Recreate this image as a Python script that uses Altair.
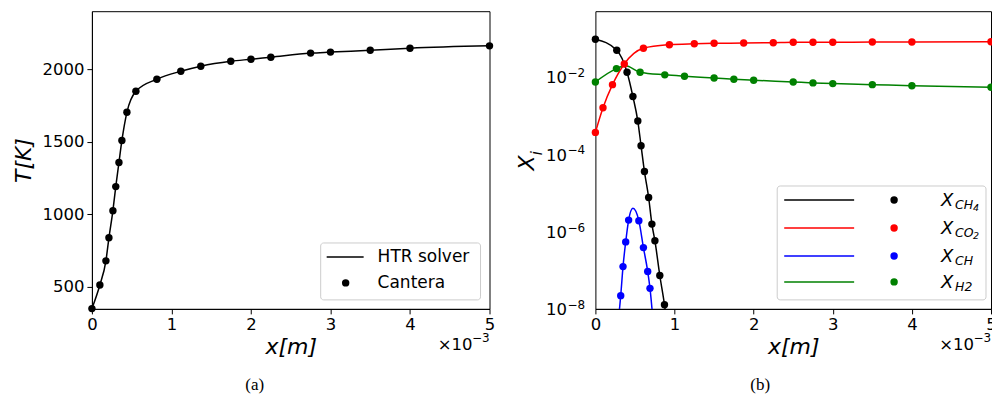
import altair as alt
import pandas as pd

FONT = "DejaVu Sans"

# ---------------- data (x in units of 1e-3 m) ----------------
# (a) temperature
t_x = [0.0, 0.10, 0.176, 0.214, 0.264, 0.30, 0.34, 0.377, 0.44, 0.553, 0.817,
       1.118, 1.369, 1.746, 2.0, 2.25, 2.75, 3.0, 3.5, 4.0, 5.0]
t_T = [350, 513, 679, 838, 1025, 1191, 1357, 1509, 1703, 1848, 1931,
       1986, 2021, 2055, 2069, 2083, 2111, 2118, 2131, 2145, 2161]

# (b) species mole fractions, Cantera points
ch4_x = [0.0, 0.27, 0.40, 0.474, 0.536, 0.577, 0.62, 0.673, 0.714, 0.752, 0.814, 0.873]
ch4_y = [0.094, 0.049, 0.0132, 3.1e-3, 7.2e-4, 1.66e-4, 3.56e-5, 7.6e-6, 1.56e-6, 5.8e-7, 7.3e-8, 1.28e-8]

co2_x = [0.0, 0.096, 0.216, 0.365, 0.607, 0.935, 1.25, 1.5, 1.874, 2.248, 2.5, 2.75, 3.0, 3.5, 4.0, 5.0]
co2_y = [3.67e-4, 1.59e-3, 6.3e-3, 0.0216, 0.055, 0.068, 0.072, 0.074, 0.075, 0.0766, 0.0785,
         0.0785, 0.0785, 0.0798, 0.0798, 0.081]

ch_x = [0.32, 0.349, 0.383, 0.42, 0.549, 0.607, 0.661, 0.69]
ch_y = [2.2e-8, 1.24e-7, 5.4e-7, 1.98e-6, 1.91e-6, 3.85e-7, 9.3e-8, 3.4e-8]

h2_x = [0.0, 0.266, 0.565, 0.877, 1.126, 1.5, 1.75, 2.0, 2.5, 2.75, 3.0, 3.5, 4.0, 5.0]
h2_y = [7.4e-3, 0.0164, 0.0132, 0.0113, 0.0104, 9.4e-3, 8.7e-3, 8.2e-3, 7.4e-3, 7.0e-3,
        6.7e-3, 6.3e-3, 5.9e-3, 5.4e-3]

# HTR solver curves
ch4_lx = [0.0, 0.27, 0.40, 0.474, 0.536, 0.577, 0.62, 0.673, 0.714, 0.752, 0.814, 0.873, 0.9]
ch4_ly = [0.094, 0.049, 0.0132, 3.1e-3, 7.2e-4, 1.66e-4, 3.56e-5, 7.6e-6, 1.56e-6, 5.8e-7, 7.3e-8, 1.28e-8, 5e-9]
co2_lx = co2_x
co2_ly = co2_y
ch_lx = [0.29, 0.32, 0.349, 0.383, 0.42, 0.474, 0.549, 0.607, 0.661, 0.69, 0.725]
ch_ly = [5e-9, 2.2e-8, 1.24e-7, 5.4e-7, 1.98e-6, 4.0e-6, 1.91e-6, 3.85e-7, 9.3e-8, 3.4e-8, 6e-9]
h2_lx = [0.0, 0.266, 0.38, 0.565, 0.877, 1.126, 1.5, 1.75, 2.0, 2.5, 2.75, 3.0, 3.5, 4.0, 5.0]
h2_ly = [7.4e-3, 0.0164, 0.0195, 0.0132, 0.0113, 0.0104, 9.4e-3, 8.7e-3, 8.2e-3, 7.4e-3, 7.0e-3,
         6.7e-3, 6.3e-3, 5.9e-3, 5.4e-3]

species = ["CH4", "CO2", "CH", "H2"]
colors = ["#000000", "#ff0000", "#0000ff", "#008000"]
leg_sub = ["CH", "CO", "CH", "H2"]
leg_subsub = ["4", "2", "", ""]

x_ticks = [0, 1, 2, 3, 4, 5]
T_ticks = [500, 1000, 1500, 2000]
X_ticks = [1e-8, 1e-6, 1e-4, 1e-2]
X_tick_exp = ["−8", "−6", "−4", "−2"]

W1, H1 = 398, 298
W2, H2 = 396, 298
PT = 55  # point size

one = pd.DataFrame({"d": [0]})


def txt(s, x, y, size, align="left", baseline="middle", style="normal", font=FONT, angle=0):
    return alt.Chart(one).mark_text(
        text=s, align=align, baseline=baseline, fontSize=size, font=font,
        fontStyle=style, color="black", angle=angle
    ).encode(x=alt.value(x), y=alt.value(y))


def box(x1, x2, y1, y2):
    return alt.Chart(one).mark_rect(
        fill="white", fillOpacity=0.8, stroke="#cccccc", strokeWidth=1, cornerRadius=3
    ).encode(x=alt.value(x1), x2=alt.value(x2), y=alt.value(y1), y2=alt.value(y2))


def seg(x1, x2, y, color):
    return alt.Chart(one).mark_rule(color=color, strokeWidth=1.5).encode(
        x=alt.value(x1), x2=alt.value(x2), y=alt.value(y))


def dot(x, y, color):
    return alt.Chart(one).mark_point(filled=True, color=color, size=PT, opacity=1).encode(
        x=alt.value(x), y=alt.value(y))


def offset_text(W):
    # the "x10^-3" multiplier under the x axis
    return [txt("×10", W - 17, 339, 16.5, align="right", baseline="alphabetic"),
            txt("−3", W - 17.5, 331, 12, align="left", baseline="alphabetic")]


xscale = alt.Scale(domain=[0, 5], nice=False, zero=False)
xaxis = alt.Axis(values=x_ticks, format="d", title="x[m]", titleFontStyle="italic",
                 titlePadding=3)

# ---------------- panel (a) ----------------
dfT = pd.DataFrame({"x": t_x, "T": t_T})
ya = alt.Y("T:Q", scale=alt.Scale(domain=[348, 2400], nice=False, zero=False),
           axis=alt.Axis(values=T_ticks, format="d", title="T[K]", titleFontStyle="italic",
                         titlePadding=6))
xa = alt.X("x:Q", scale=xscale, axis=xaxis)

lineA = alt.Chart(dfT).mark_line(color="black", strokeWidth=1.5, interpolate="monotone").encode(x=xa, y=ya)
ptsA = alt.Chart(dfT).mark_point(filled=True, color="black", size=PT, opacity=1).encode(x=xa, y=ya)

legA = [
    box(229, 389, 232, 289),
    seg(235, 272, 246, "black"),
    txt("HTR solver", 286, 246, 17),
    dot(254, 272, "black"),
    txt("Cantera", 286, 272, 17),
]
panelA = alt.layer(
    lineA, ptsA, *legA, *offset_text(W1),
    txt("(a)", 163, 374, 17, align="center", font="Liberation Serif"),
).properties(width=W1, height=H1)

# ---------------- panel (b) ----------------
yscale = alt.Scale(type="log", domain=[1e-8, 0.5], nice=False)
yaxis = alt.Axis(values=X_ticks, labels=False, title=None)

pts_data = [(ch4_x, ch4_y), (co2_x, co2_y), (ch_x, ch_y), (h2_x, h2_y)]
line_data = [(ch4_lx, ch4_ly), (co2_lx, co2_ly), (ch_lx, ch_ly), (h2_lx, h2_ly)]

layersB = []
for (lx, ly), c in zip(line_data, colors):
    d = pd.DataFrame({"x": lx, "X": ly})
    layersB.append(alt.Chart(d).mark_line(color=c, strokeWidth=1.5, interpolate="monotone", clip=True)
                   .encode(x=alt.X("x:Q", scale=xscale, axis=xaxis),
                           y=alt.Y("X:Q", scale=yscale, axis=yaxis)))
for (px, py), c in zip(pts_data, colors):
    d = pd.DataFrame({"x": px, "X": py})
    layersB.append(alt.Chart(d).mark_point(filled=True, color=c, size=PT, opacity=1)
                   .encode(x=alt.X("x:Q", scale=xscale, axis=xaxis),
                           y=alt.Y("X:Q", scale=yscale, axis=yaxis)))

# y tick labels 10^n drawn through the log scale
dticks = pd.DataFrame({"v": X_ticks, "e": X_tick_exp})
lab10 = alt.Chart(dticks).mark_text(text="10", align="right", baseline="alphabetic", dy=6.5,
                                    fontSize=16.5, font=FONT, color="black").encode(
    x=alt.value(-28.5), y=alt.Y("v:Q", scale=yscale, axis=None))
labexp = alt.Chart(dticks).mark_text(align="left", baseline="alphabetic", dy=0,
                                     fontSize=12, font=FONT, color="black").encode(
    x=alt.value(-28), y=alt.Y("v:Q", scale=yscale, axis=None), text="e:N")

titleB = [txt("X", -68, 152, 22, align="center", style="italic", angle=270),
          txt("i", -58, 142, 15, align="center", style="italic", angle=270)]

# legend of panel (b)
lx0 = 182
legB = [box(lx0, 391, 175, 289)]
entry_y = [189, 217, 245, 271]
for ey, c, s1, s2 in zip(entry_y, colors, leg_sub, leg_subsub):
    legB.append(seg(lx0 + 7, lx0 + 77, ey, c))
    legB.append(dot(lx0 + 117, ey, c))
    legB.append(txt("X", lx0 + 164, ey + 6, 18, baseline="alphabetic", style="italic"))
    legB.append(txt(s1, lx0 + 178, ey + 9.5, 12.5, baseline="alphabetic", style="italic"))
    if s2:
        legB.append(txt(s2, lx0 + 196, ey + 11, 9.5, baseline="alphabetic", style="italic"))

panelB = alt.layer(
    *layersB, lab10, labexp, *titleB, *legB, *offset_text(W2),
    txt("(b)", 165, 374, 17, align="center", font="Liberation Serif"),
).properties(width=W2, height=H2)

chart = alt.hconcat(panelA, panelB, spacing=20).properties(
    padding={"left": 4, "top": 2, "right": -5, "bottom": 0}
).configure_view(stroke="black", strokeWidth=1).configure_axis(
    grid=False, labelFont=FONT, labelFontSize=16.5, labelColor="black",
    titleFont=FONT, titleFontSize=22, titleFontWeight="normal", titleColor="black",
    tickColor="black", tickSize=5, tickWidth=1, domainColor="black", domainWidth=1,
    labelPadding=3, labelFlush=False, labelOverlap=False
)

chart.save("out.html", embed_options={"renderer": "svg", "actions": False})
